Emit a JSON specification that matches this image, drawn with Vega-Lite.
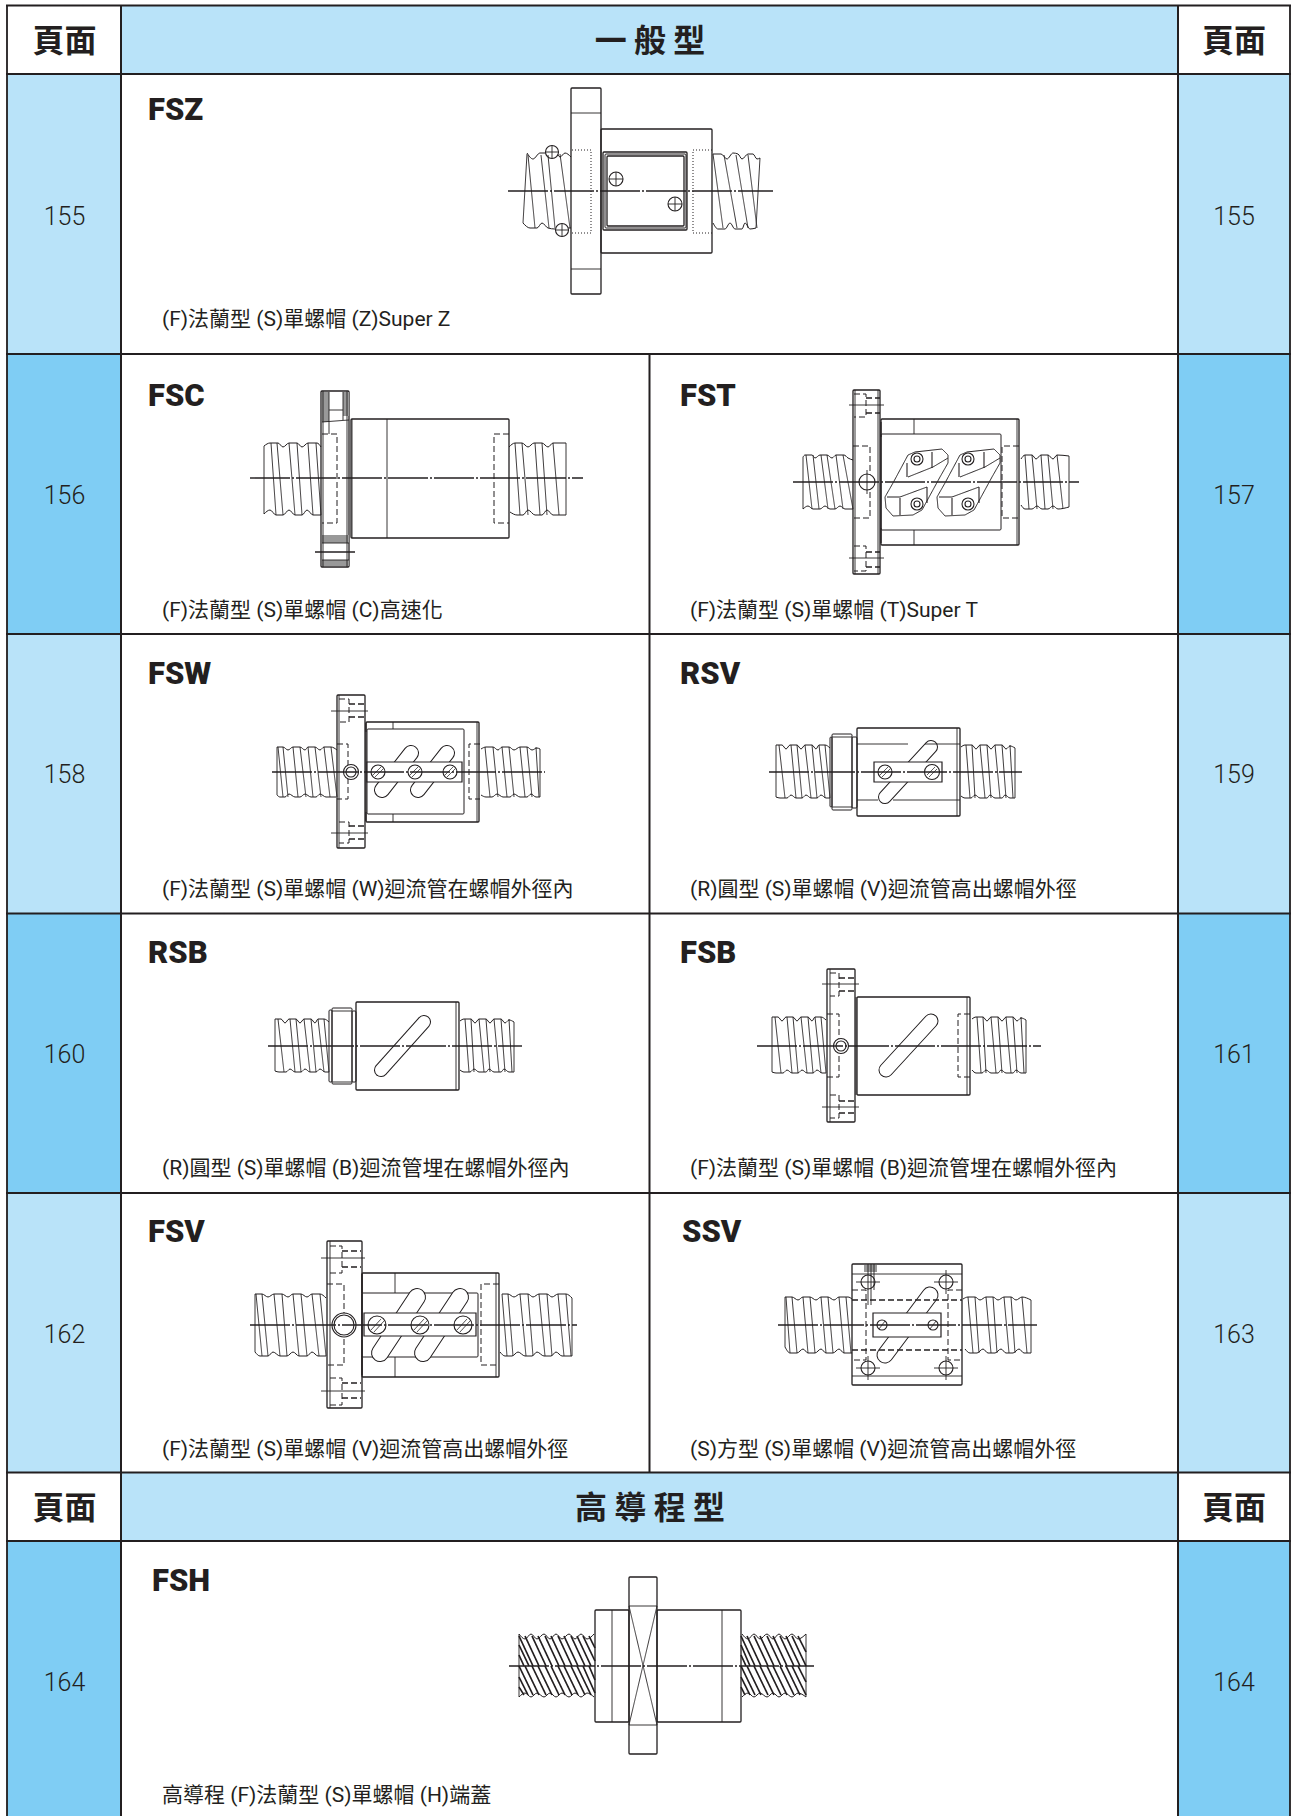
{"$schema":"https://vega.github.io/schema/vega-lite/v6.json","width":1292,"height":1816,"padding":0,"autosize":{"type":"none"},"background":"white","config":{"view":{"stroke":null}},"resolve":{"scale":{"strokeWidth":"independent","strokeDash":"independent","size":"independent","fill":"independent"}},"encoding":{"x":{"field":"x","type":"quantitative","axis":null,"scale":{"domain":[0,1292],"nice":false,"zero":false}},"y":{"field":"y","type":"quantitative","axis":null,"scale":{"domain":[0,1816],"reverse":true,"nice":false,"zero":false}}},"layer":[
{"data":{"values":[{"t":"white","x":7,"x2":121,"y":5,"y2":74},{"t":"light","x":121,"x2":1178,"y":5,"y2":74},{"t":"white","x":1178,"x2":1290,"y":5,"y2":74},{"t":"light","x":7,"x2":121,"y":74,"y2":354},{"t":"light","x":1178,"x2":1290,"y":74,"y2":354},{"t":"dark","x":7,"x2":121,"y":354,"y2":634},{"t":"dark","x":1178,"x2":1290,"y":354,"y2":634},{"t":"light","x":7,"x2":121,"y":634,"y2":913},{"t":"light","x":1178,"x2":1290,"y":634,"y2":913},{"t":"dark","x":7,"x2":121,"y":913,"y2":1193},{"t":"dark","x":1178,"x2":1290,"y":913,"y2":1193},{"t":"light","x":7,"x2":121,"y":1193,"y2":1472},{"t":"light","x":1178,"x2":1290,"y":1193,"y2":1472},{"t":"white","x":7,"x2":121,"y":1472,"y2":1541},{"t":"light","x":121,"x2":1178,"y":1472,"y2":1541},{"t":"white","x":1178,"x2":1290,"y":1472,"y2":1541},{"t":"dark","x":7,"x2":121,"y":1541,"y2":1816},{"t":"dark","x":1178,"x2":1290,"y":1541,"y2":1816}]},"mark":{"type":"rect"},"encoding":{"x2":{"field":"x2"},"y2":{"field":"y2"},"fill":{"field":"t","type":"nominal","legend":null,"scale":{"domain":["white","light","dark"],"range":["#ffffff","#b9e3f9","#7fcdf4"]}}}},
{"data":{"values":[
{"k":"t","x":571,"y":88,"x2":601,"y2":294},{"k":"t","x":601,"y":129,"x2":712,"y2":253},{"k":"t","x":603,"y":152,"x2":687,"y2":230},{"k":"s","x":605,"y":154,"x2":686,"y2":228},{"k":"t","x":607,"y":156,"x2":684,"y2":226},
{"k":"t","x":321,"y":391,"x2":349,"y2":567},{"k":"t","x":351,"y":419,"x2":509,"y2":538},
{"k":"t","x":853,"y":390,"x2":880,"y2":574},{"k":"t","x":881,"y":419,"x2":1019,"y2":545},{"k":"s","x":881,"y":434,"x2":1001,"y2":530},
{"k":"t","x":337,"y":695,"x2":365,"y2":848},{"k":"t","x":366,"y":722,"x2":479,"y2":822},{"k":"s","x":367,"y":729,"x2":464,"y2":814},
{"k":"s","x":830,"y":737,"x2":832,"y2":807},{"k":"s","x":832,"y":734,"x2":852,"y2":810},{"k":"s","x":852,"y":737,"x2":857,"y2":808},{"k":"t","x":857,"y":728,"x2":960,"y2":816},
{"k":"s","x":329,"y":1010,"x2":332,"y2":1082},{"k":"s","x":332,"y":1008,"x2":352,"y2":1084},{"k":"s","x":352,"y":1011,"x2":356,"y2":1082},{"k":"t","x":356,"y":1002,"x2":459,"y2":1090},
{"k":"t","x":827,"y":969,"x2":855,"y2":1122},{"k":"t","x":857,"y":997,"x2":970,"y2":1095},
{"k":"t","x":327,"y":1241,"x2":362,"y2":1408},{"k":"t","x":362,"y":1273,"x2":499,"y2":1377},{"k":"s","x":362,"y":1293,"x2":478,"y2":1357},
{"k":"t","x":852,"y":1264,"x2":962,"y2":1385},
{"k":"t","x":629,"y":1577,"x2":657,"y2":1754},{"k":"t","x":595,"y":1610,"x2":629,"y2":1722},{"k":"t","x":657,"y":1610,"x2":741,"y2":1722}
]},"mark":{"type":"rect","fillOpacity":0,"stroke":"#231f20","cornerRadius":1},"encoding":{"x2":{"field":"x2"},"y2":{"field":"y2"},"strokeWidth":{"field":"k","type":"nominal","legend":null,"scale":{"domain":["s","t"],"range":[1,1.3]}}}},
{"data":{"name":"slots","values":[{"d":16,"x":382,"y":790,"x2":411,"y2":753},{"d":16,"x":418,"y":790,"x2":447,"y2":753},{"d":14,"x":885,"y":797,"x2":931,"y2":747},{"d":14,"x":381,"y":1070,"x2":424,"y2":1022},{"d":15,"x":886,"y":1070,"x2":931,"y2":1021},{"d":18,"x":380,"y":1353,"x2":417,"y2":1297},{"d":18,"x":423,"y":1353,"x2":460,"y2":1297},{"d":17,"x":885,"y":1355,"x2":930,"y2":1295}]},"mark":{"type":"rule","stroke":"#231f20","strokeCap":"round"},"encoding":{"x2":{"field":"x2"},"y2":{"field":"y2"},"strokeWidth":{"field":"d","type":"quantitative","legend":null,"scale":{"domain":[0,20],"range":[0,20]}}}},
{"data":{"name":"slots"},"mark":{"type":"rule","stroke":"#ffffff","strokeCap":"round"},"encoding":{"x2":{"field":"x2"},"y2":{"field":"y2"},"strokeWidth":{"field":"d","type":"quantitative","legend":null,"scale":{"domain":[0,20],"range":[-2,18]}}}},
{"data":{"values":[{"x":367,"y":762,"x2":462,"y2":782},{"x":874,"y":762,"x2":942,"y2":782},{"x":364,"y":1313,"x2":476,"y2":1336},{"x":873,"y":1313,"x2":941,"y2":1337}]},"mark":{"type":"rect","fill":"#ffffff","stroke":"#231f20","strokeWidth":1.2},"encoding":{"x2":{"field":"x2"},"y2":{"field":"y2"}}},
{"data":{"values":[{"x":322,"y":392,"x2":329,"y2":422},{"x":343,"y":392,"x2":349,"y2":416},{"x":322,"y":535,"x2":349,"y2":543},{"x":322,"y":560,"x2":349,"y2":566},{"x":864,"y":1265,"x2":877,"y2":1272}]},"mark":{"type":"rect","fill":"#999999"},"encoding":{"x2":{"field":"x2"},"y2":{"field":"y2"}}},
{"data":{"values":[
{"g":"a1","x":527,"y":153},{"g":"a1","x":533,"y":159},{"g":"a1","x":540,"y":153},{"g":"a1","x":549,"y":153},{"g":"a1","x":556,"y":153},{"g":"a1","x":560,"y":157},{"g":"a1","x":565,"y":153},{"g":"a1","x":571,"y":157},
{"g":"a2","x":523,"y":223},{"g":"a2","x":530,"y":228},{"g":"a2","x":537,"y":228},{"g":"a2","x":542,"y":223},{"g":"a2","x":548,"y":228},{"g":"a2","x":555,"y":229},{"g":"a2","x":568,"y":228},{"g":"a2","x":571,"y":228},
{"g":"a3","x":713,"y":154},{"g":"a3","x":721,"y":154},{"g":"a3","x":727,"y":159},{"g":"a3","x":733,"y":153},{"g":"a3","x":738,"y":154},{"g":"a3","x":742,"y":159},{"g":"a3","x":748,"y":154},{"g":"a3","x":753,"y":154},{"g":"a3","x":757,"y":159},{"g":"a3","x":760,"y":158},
{"g":"a4","x":713,"y":223},{"g":"a4","x":718,"y":229},{"g":"a4","x":725,"y":229},{"g":"a4","x":730,"y":223},{"g":"a4","x":735,"y":229},{"g":"a4","x":742,"y":229},{"g":"a4","x":745,"y":223},{"g":"a4","x":750,"y":229},{"g":"a4","x":756,"y":228},
{"g":"b1","x":264,"y":446},{"g":"b1","x":270,"y":443},{"g":"b1","x":278,"y":443},{"g":"b1","x":283,"y":447},{"g":"b1","x":289,"y":443},{"g":"b1","x":297,"y":443},{"g":"b1","x":302,"y":447},{"g":"b1","x":308,"y":443},{"g":"b1","x":317,"y":443},{"g":"b1","x":321,"y":447},
{"g":"b2","x":264,"y":514},{"g":"b2","x":270,"y":510},{"g":"b2","x":276,"y":515},{"g":"b2","x":283,"y":515},{"g":"b2","x":289,"y":510},{"g":"b2","x":295,"y":515},{"g":"b2","x":302,"y":515},{"g":"b2","x":307,"y":510},{"g":"b2","x":313,"y":515},{"g":"b2","x":321,"y":515},
{"g":"b3","x":509,"y":447},{"g":"b3","x":515,"y":443},{"g":"b3","x":522,"y":443},{"g":"b3","x":528,"y":447},{"g":"b3","x":534,"y":443},{"g":"b3","x":542,"y":443},{"g":"b3","x":548,"y":447},{"g":"b3","x":553,"y":443},{"g":"b3","x":566,"y":443},
{"g":"b4","x":510,"y":512},{"g":"b4","x":517,"y":515},{"g":"b4","x":523,"y":515},{"g":"b4","x":528,"y":510},{"g":"b4","x":535,"y":515},{"g":"b4","x":542,"y":515},{"g":"b4","x":547,"y":510},{"g":"b4","x":553,"y":515},{"g":"b4","x":566,"y":515},
{"g":"c1","x":803,"y":457},{"g":"c1","x":805,"y":455},{"g":"c1","x":812,"y":455},{"g":"c1","x":815,"y":458},{"g":"c1","x":820,"y":455},{"g":"c1","x":827,"y":455},{"g":"c1","x":832,"y":458},{"g":"c1","x":836,"y":455},{"g":"c1","x":844,"y":455},{"g":"c1","x":848,"y":458},{"g":"c1","x":853,"y":460},
{"g":"c2","x":803,"y":509},{"g":"c2","x":808,"y":506},{"g":"c2","x":813,"y":509},{"g":"c2","x":820,"y":509},{"g":"c2","x":825,"y":506},{"g":"c2","x":830,"y":509},{"g":"c2","x":835,"y":509},{"g":"c2","x":840,"y":506},{"g":"c2","x":845,"y":509},{"g":"c2","x":853,"y":509},
{"g":"c3","x":1021,"y":459},{"g":"c3","x":1025,"y":455},{"g":"c3","x":1032,"y":455},{"g":"c3","x":1036,"y":459},{"g":"c3","x":1041,"y":455},{"g":"c3","x":1048,"y":455},{"g":"c3","x":1053,"y":459},{"g":"c3","x":1057,"y":455},{"g":"c3","x":1069,"y":456},
{"g":"c4","x":1021,"y":505},{"g":"c4","x":1025,"y":509},{"g":"c4","x":1032,"y":509},{"g":"c4","x":1037,"y":506},{"g":"c4","x":1042,"y":509},{"g":"c4","x":1048,"y":509},{"g":"c4","x":1053,"y":506},{"g":"c4","x":1058,"y":509},{"g":"c4","x":1069,"y":507},
{"g":"d1","x":277,"y":747},{"g":"d1","x":283,"y":747},{"g":"d1","x":288,"y":750},{"g":"d1","x":293,"y":747},{"g":"d1","x":300,"y":747},{"g":"d1","x":305,"y":750},{"g":"d1","x":308,"y":747},{"g":"d1","x":315,"y":747},{"g":"d1","x":320,"y":750},{"g":"d1","x":324,"y":747},{"g":"d1","x":331,"y":747},{"g":"d1","x":337,"y":750},
{"g":"d2","x":277,"y":795},{"g":"d2","x":280,"y":797},{"g":"d2","x":285,"y":797},{"g":"d2","x":289,"y":794},{"g":"d2","x":295,"y":797},{"g":"d2","x":300,"y":797},{"g":"d2","x":305,"y":794},{"g":"d2","x":311,"y":797},{"g":"d2","x":316,"y":797},{"g":"d2","x":320,"y":794},{"g":"d2","x":326,"y":797},{"g":"d2","x":336,"y":797},
{"g":"d3","x":481,"y":749},{"g":"d3","x":486,"y":747},{"g":"d3","x":493,"y":747},{"g":"d3","x":498,"y":750},{"g":"d3","x":502,"y":747},{"g":"d3","x":509,"y":747},{"g":"d3","x":514,"y":750},{"g":"d3","x":520,"y":747},{"g":"d3","x":527,"y":747},{"g":"d3","x":532,"y":750},{"g":"d3","x":537,"y":748},{"g":"d3","x":540,"y":749},
{"g":"d4","x":481,"y":795},{"g":"d4","x":486,"y":797},{"g":"d4","x":492,"y":797},{"g":"d4","x":497,"y":794},{"g":"d4","x":503,"y":797},{"g":"d4","x":510,"y":797},{"g":"d4","x":514,"y":794},{"g":"d4","x":520,"y":797},{"g":"d4","x":527,"y":797},{"g":"d4","x":531,"y":794},{"g":"d4","x":536,"y":797},{"g":"d4","x":540,"y":797},
{"g":"e1","x":776,"y":745},{"g":"e1","x":782,"y":745},{"g":"e1","x":786,"y":749},{"g":"e1","x":790,"y":745},{"g":"e1","x":797,"y":745},{"g":"e1","x":801,"y":749},{"g":"e1","x":805,"y":745},{"g":"e1","x":812,"y":745},{"g":"e1","x":816,"y":749},{"g":"e1","x":819,"y":745},{"g":"e1","x":825,"y":745},{"g":"e1","x":830,"y":748},
{"g":"e2","x":776,"y":797},{"g":"e2","x":780,"y":798},{"g":"e2","x":787,"y":798},{"g":"e2","x":791,"y":795},{"g":"e2","x":796,"y":798},{"g":"e2","x":802,"y":798},{"g":"e2","x":806,"y":795},{"g":"e2","x":811,"y":798},{"g":"e2","x":817,"y":798},{"g":"e2","x":821,"y":795},{"g":"e2","x":826,"y":798},{"g":"e2","x":830,"y":798},
{"g":"e3","x":961,"y":747},{"g":"e3","x":965,"y":745},{"g":"e3","x":972,"y":745},{"g":"e3","x":976,"y":749},{"g":"e3","x":980,"y":745},{"g":"e3","x":987,"y":745},{"g":"e3","x":991,"y":749},{"g":"e3","x":995,"y":745},{"g":"e3","x":1002,"y":745},{"g":"e3","x":1006,"y":749},{"g":"e3","x":1010,"y":746},{"g":"e3","x":1015,"y":748},
{"g":"e4","x":961,"y":796},{"g":"e4","x":965,"y":798},{"g":"e4","x":971,"y":798},{"g":"e4","x":975,"y":795},{"g":"e4","x":980,"y":798},{"g":"e4","x":987,"y":798},{"g":"e4","x":990,"y":795},{"g":"e4","x":995,"y":798},{"g":"e4","x":1002,"y":798},{"g":"e4","x":1005,"y":795},{"g":"e4","x":1010,"y":798},{"g":"e4","x":1015,"y":798},
{"g":"f1","x":275,"y":1019},{"g":"f1","x":281,"y":1019},{"g":"f1","x":285,"y":1023},{"g":"f1","x":289,"y":1019},{"g":"f1","x":296,"y":1019},{"g":"f1","x":300,"y":1023},{"g":"f1","x":304,"y":1019},{"g":"f1","x":311,"y":1019},{"g":"f1","x":315,"y":1023},{"g":"f1","x":318,"y":1019},{"g":"f1","x":324,"y":1019},{"g":"f1","x":329,"y":1022},
{"g":"f2","x":275,"y":1071},{"g":"f2","x":279,"y":1072},{"g":"f2","x":286,"y":1072},{"g":"f2","x":290,"y":1069},{"g":"f2","x":295,"y":1072},{"g":"f2","x":301,"y":1072},{"g":"f2","x":305,"y":1069},{"g":"f2","x":310,"y":1072},{"g":"f2","x":316,"y":1072},{"g":"f2","x":320,"y":1069},{"g":"f2","x":325,"y":1072},{"g":"f2","x":329,"y":1072},
{"g":"f3","x":460,"y":1021},{"g":"f3","x":464,"y":1019},{"g":"f3","x":471,"y":1019},{"g":"f3","x":475,"y":1023},{"g":"f3","x":479,"y":1019},{"g":"f3","x":486,"y":1019},{"g":"f3","x":490,"y":1023},{"g":"f3","x":494,"y":1019},{"g":"f3","x":501,"y":1019},{"g":"f3","x":505,"y":1023},{"g":"f3","x":509,"y":1020},{"g":"f3","x":514,"y":1022},
{"g":"f4","x":460,"y":1070},{"g":"f4","x":464,"y":1072},{"g":"f4","x":470,"y":1072},{"g":"f4","x":474,"y":1069},{"g":"f4","x":479,"y":1072},{"g":"f4","x":486,"y":1072},{"g":"f4","x":489,"y":1069},{"g":"f4","x":494,"y":1072},{"g":"f4","x":501,"y":1072},{"g":"f4","x":504,"y":1069},{"g":"f4","x":509,"y":1072},{"g":"f4","x":514,"y":1072},
{"g":"h1","x":772,"y":1017},{"g":"h1","x":778,"y":1017},{"g":"h1","x":782,"y":1021},{"g":"h1","x":786,"y":1017},{"g":"h1","x":793,"y":1017},{"g":"h1","x":797,"y":1021},{"g":"h1","x":801,"y":1017},{"g":"h1","x":808,"y":1017},{"g":"h1","x":812,"y":1021},{"g":"h1","x":815,"y":1017},{"g":"h1","x":821,"y":1017},{"g":"h1","x":826,"y":1020},
{"g":"h2","x":772,"y":1072},{"g":"h2","x":776,"y":1073},{"g":"h2","x":783,"y":1073},{"g":"h2","x":787,"y":1070},{"g":"h2","x":792,"y":1073},{"g":"h2","x":798,"y":1073},{"g":"h2","x":802,"y":1070},{"g":"h2","x":807,"y":1073},{"g":"h2","x":813,"y":1073},{"g":"h2","x":817,"y":1070},{"g":"h2","x":822,"y":1073},{"g":"h2","x":826,"y":1073},
{"g":"h3","x":972,"y":1019},{"g":"h3","x":976,"y":1017},{"g":"h3","x":983,"y":1017},{"g":"h3","x":987,"y":1021},{"g":"h3","x":991,"y":1017},{"g":"h3","x":998,"y":1017},{"g":"h3","x":1002,"y":1021},{"g":"h3","x":1006,"y":1017},{"g":"h3","x":1013,"y":1017},{"g":"h3","x":1017,"y":1021},{"g":"h3","x":1021,"y":1018},{"g":"h3","x":1026,"y":1020},
{"g":"h4","x":972,"y":1070},{"g":"h4","x":976,"y":1073},{"g":"h4","x":982,"y":1073},{"g":"h4","x":986,"y":1070},{"g":"h4","x":991,"y":1073},{"g":"h4","x":998,"y":1073},{"g":"h4","x":1001,"y":1070},{"g":"h4","x":1006,"y":1073},{"g":"h4","x":1013,"y":1073},{"g":"h4","x":1016,"y":1070},{"g":"h4","x":1021,"y":1073},{"g":"h4","x":1026,"y":1073},
{"g":"i1","x":255,"y":1294},{"g":"i1","x":262,"y":1294},{"g":"i1","x":268,"y":1297},{"g":"i1","x":274,"y":1294},{"g":"i1","x":282,"y":1294},{"g":"i1","x":288,"y":1297},{"g":"i1","x":293,"y":1294},{"g":"i1","x":301,"y":1294},{"g":"i1","x":307,"y":1297},{"g":"i1","x":312,"y":1294},{"g":"i1","x":320,"y":1294},{"g":"i1","x":326,"y":1298},
{"g":"i2","x":255,"y":1352},{"g":"i2","x":260,"y":1356},{"g":"i2","x":268,"y":1356},{"g":"i2","x":273,"y":1352},{"g":"i2","x":280,"y":1356},{"g":"i2","x":287,"y":1356},{"g":"i2","x":293,"y":1352},{"g":"i2","x":299,"y":1356},{"g":"i2","x":307,"y":1356},{"g":"i2","x":312,"y":1352},{"g":"i2","x":318,"y":1356},{"g":"i2","x":326,"y":1356},
{"g":"i3","x":502,"y":1294},{"g":"i3","x":508,"y":1294},{"g":"i3","x":514,"y":1297},{"g":"i3","x":520,"y":1294},{"g":"i3","x":528,"y":1294},{"g":"i3","x":533,"y":1297},{"g":"i3","x":539,"y":1294},{"g":"i3","x":547,"y":1294},{"g":"i3","x":552,"y":1297},{"g":"i3","x":558,"y":1294},{"g":"i3","x":566,"y":1294},{"g":"i3","x":572,"y":1298},
{"g":"i4","x":500,"y":1352},{"g":"i4","x":505,"y":1356},{"g":"i4","x":512,"y":1356},{"g":"i4","x":518,"y":1352},{"g":"i4","x":525,"y":1356},{"g":"i4","x":532,"y":1356},{"g":"i4","x":537,"y":1352},{"g":"i4","x":544,"y":1356},{"g":"i4","x":551,"y":1356},{"g":"i4","x":556,"y":1352},{"g":"i4","x":562,"y":1356},{"g":"i4","x":572,"y":1356},
{"g":"j1","x":785,"y":1297},{"g":"j1","x":792,"y":1297},{"g":"j1","x":798,"y":1300},{"g":"j1","x":803,"y":1297},{"g":"j1","x":810,"y":1297},{"g":"j1","x":816,"y":1300},{"g":"j1","x":821,"y":1297},{"g":"j1","x":828,"y":1297},{"g":"j1","x":834,"y":1300},{"g":"j1","x":839,"y":1297},{"g":"j1","x":848,"y":1297},{"g":"j1","x":852,"y":1299},
{"g":"j2","x":785,"y":1347},{"g":"j2","x":790,"y":1353},{"g":"j2","x":797,"y":1353},{"g":"j2","x":803,"y":1349},{"g":"j2","x":808,"y":1353},{"g":"j2","x":815,"y":1353},{"g":"j2","x":821,"y":1349},{"g":"j2","x":826,"y":1353},{"g":"j2","x":833,"y":1353},{"g":"j2","x":839,"y":1349},{"g":"j2","x":844,"y":1353},{"g":"j2","x":852,"y":1353},
{"g":"j3","x":963,"y":1299},{"g":"j3","x":968,"y":1297},{"g":"j3","x":975,"y":1297},{"g":"j3","x":980,"y":1300},{"g":"j3","x":986,"y":1297},{"g":"j3","x":993,"y":1297},{"g":"j3","x":998,"y":1300},{"g":"j3","x":1004,"y":1297},{"g":"j3","x":1011,"y":1297},{"g":"j3","x":1016,"y":1300},{"g":"j3","x":1022,"y":1297},{"g":"j3","x":1031,"y":1300},
{"g":"j4","x":965,"y":1349},{"g":"j4","x":970,"y":1353},{"g":"j4","x":977,"y":1353},{"g":"j4","x":983,"y":1349},{"g":"j4","x":988,"y":1353},{"g":"j4","x":995,"y":1353},{"g":"j4","x":1001,"y":1349},{"g":"j4","x":1006,"y":1353},{"g":"j4","x":1013,"y":1353},{"g":"j4","x":1019,"y":1349},{"g":"j4","x":1024,"y":1353},{"g":"j4","x":1031,"y":1353},
{"g":"k1","x":519,"y":1634},{"g":"k1","x":525,"y":1639},{"g":"k1","x":531,"y":1634},{"g":"k1","x":537,"y":1639},{"g":"k1","x":544,"y":1634},{"g":"k1","x":550,"y":1639},{"g":"k1","x":556,"y":1634},{"g":"k1","x":562,"y":1639},{"g":"k1","x":569,"y":1634},{"g":"k1","x":575,"y":1639},{"g":"k1","x":581,"y":1634},{"g":"k1","x":587,"y":1639},{"g":"k1","x":594,"y":1634},
{"g":"k2","x":519,"y":1697},{"g":"k2","x":525,"y":1693},{"g":"k2","x":531,"y":1697},{"g":"k2","x":537,"y":1693},{"g":"k2","x":544,"y":1697},{"g":"k2","x":550,"y":1693},{"g":"k2","x":556,"y":1697},{"g":"k2","x":562,"y":1693},{"g":"k2","x":569,"y":1697},{"g":"k2","x":575,"y":1693},{"g":"k2","x":581,"y":1697},{"g":"k2","x":587,"y":1693},{"g":"k2","x":594,"y":1697},
{"g":"k3","x":742,"y":1634},{"g":"k3","x":748,"y":1639},{"g":"k3","x":754,"y":1634},{"g":"k3","x":760,"y":1639},{"g":"k3","x":767,"y":1634},{"g":"k3","x":773,"y":1639},{"g":"k3","x":779,"y":1634},{"g":"k3","x":785,"y":1639},{"g":"k3","x":792,"y":1634},{"g":"k3","x":798,"y":1639},{"g":"k3","x":806,"y":1634},
{"g":"k4","x":742,"y":1697},{"g":"k4","x":748,"y":1693},{"g":"k4","x":754,"y":1697},{"g":"k4","x":760,"y":1693},{"g":"k4","x":767,"y":1697},{"g":"k4","x":773,"y":1693},{"g":"k4","x":779,"y":1697},{"g":"k4","x":785,"y":1693},{"g":"k4","x":792,"y":1697},{"g":"k4","x":798,"y":1693},{"g":"k4","x":806,"y":1697}
]},"mark":{"type":"line","interpolate":"monotone","stroke":"#231f20","strokeWidth":1},"encoding":{"detail":{"field":"g","type":"nominal"}}},
{"data":{"values":[
{"g":"o1","k":"o","x":572,"y":150},{"g":"o1","k":"o","x":591,"y":150},{"g":"o1","k":"o","x":591,"y":233},{"g":"o1","k":"o","x":572,"y":233},
{"g":"o2","k":"o","x":712,"y":150},{"g":"o2","k":"o","x":693,"y":150},{"g":"o2","k":"o","x":693,"y":233},{"g":"o2","k":"o","x":712,"y":233},
{"g":"p1","k":"d","x":322,"y":434},{"g":"p1","k":"d","x":337,"y":434},{"g":"p1","k":"d","x":337,"y":523},{"g":"p1","k":"d","x":322,"y":523},
{"g":"p2","k":"d","x":509,"y":434},{"g":"p2","k":"d","x":494,"y":434},{"g":"p2","k":"d","x":494,"y":523},{"g":"p2","k":"d","x":509,"y":523},
{"g":"p3","k":"d","x":854,"y":394},{"g":"p3","k":"d","x":866,"y":394},{"g":"p3","k":"d","x":866,"y":417},{"g":"p3","k":"d","x":854,"y":417},
{"g":"p4","k":"d","x":854,"y":546},{"g":"p4","k":"d","x":866,"y":546},{"g":"p4","k":"d","x":866,"y":571},{"g":"p4","k":"d","x":854,"y":571},
{"g":"p5","k":"d","x":853,"y":446},{"g":"p5","k":"d","x":870,"y":446},{"g":"p5","k":"d","x":870,"y":518},{"g":"p5","k":"d","x":853,"y":518},
{"g":"p6","k":"d","x":1019,"y":446},{"g":"p6","k":"d","x":1002,"y":446},{"g":"p6","k":"d","x":1002,"y":518},{"g":"p6","k":"d","x":1019,"y":518},
{"g":"q1","k":"s","x":915,"y":452},{"g":"q1","k":"s","x":942,"y":449},{"g":"q1","k":"s","x":948,"y":455},{"g":"q1","k":"s","x":948,"y":463},{"g":"q1","k":"s","x":940,"y":477},{"g":"q1","k":"s","x":922,"y":510},{"g":"q1","k":"s","x":913,"y":515},{"g":"q1","k":"s","x":893,"y":516},{"g":"q1","k":"s","x":886,"y":508},{"g":"q1","k":"s","x":885,"y":497},{"g":"q1","k":"s","x":893,"y":483},{"g":"q1","k":"s","x":908,"y":455},{"g":"q1","k":"s","x":915,"y":452},
{"g":"q2","k":"s","x":967,"y":452},{"g":"q2","k":"s","x":994,"y":449},{"g":"q2","k":"s","x":1000,"y":455},{"g":"q2","k":"s","x":1000,"y":463},{"g":"q2","k":"s","x":992,"y":477},{"g":"q2","k":"s","x":974,"y":510},{"g":"q2","k":"s","x":965,"y":515},{"g":"q2","k":"s","x":945,"y":516},{"g":"q2","k":"s","x":938,"y":508},{"g":"q2","k":"s","x":937,"y":497},{"g":"q2","k":"s","x":945,"y":483},{"g":"q2","k":"s","x":960,"y":455},{"g":"q2","k":"s","x":967,"y":452},
{"g":"q3","k":"s","x":908,"y":477},{"g":"q3","k":"s","x":933,"y":467},{"g":"q3","k":"s","x":948,"y":458},
{"g":"q4","k":"s","x":887,"y":497},{"g":"q4","k":"s","x":900,"y":497},{"g":"q4","k":"s","x":927,"y":487},
{"g":"q5","k":"s","x":960,"y":477},{"g":"q5","k":"s","x":985,"y":467},{"g":"q5","k":"s","x":1000,"y":458},
{"g":"q6","k":"s","x":939,"y":497},{"g":"q6","k":"s","x":952,"y":497},{"g":"q6","k":"s","x":979,"y":487},
{"g":"r1","k":"d","x":339,"y":699},{"g":"r1","k":"d","x":349,"y":699},{"g":"r1","k":"d","x":349,"y":722},{"g":"r1","k":"d","x":339,"y":722},
{"g":"r2","k":"d","x":339,"y":822},{"g":"r2","k":"d","x":349,"y":822},{"g":"r2","k":"d","x":349,"y":843},{"g":"r2","k":"d","x":339,"y":843},
{"g":"r3","k":"d","x":337,"y":744},{"g":"r3","k":"d","x":348,"y":744},{"g":"r3","k":"d","x":348,"y":799},{"g":"r3","k":"d","x":337,"y":799},
{"g":"r4","k":"d","x":480,"y":744},{"g":"r4","k":"d","x":469,"y":744},{"g":"r4","k":"d","x":469,"y":799},{"g":"r4","k":"d","x":480,"y":799},
{"g":"u1","k":"d","x":830,"y":973},{"g":"u1","k":"d","x":839,"y":973},{"g":"u1","k":"d","x":839,"y":996},{"g":"u1","k":"d","x":830,"y":996},
{"g":"u2","k":"d","x":830,"y":1095},{"g":"u2","k":"d","x":839,"y":1095},{"g":"u2","k":"d","x":839,"y":1118},{"g":"u2","k":"d","x":830,"y":1118},
{"g":"u3","k":"d","x":827,"y":1014},{"g":"u3","k":"d","x":839,"y":1014},{"g":"u3","k":"d","x":839,"y":1077},{"g":"u3","k":"d","x":827,"y":1077},
{"g":"u4","k":"d","x":970,"y":1014},{"g":"u4","k":"d","x":958,"y":1014},{"g":"u4","k":"d","x":958,"y":1077},{"g":"u4","k":"d","x":970,"y":1077},
{"g":"v1","k":"d","x":330,"y":1246},{"g":"v1","k":"d","x":342,"y":1246},{"g":"v1","k":"d","x":342,"y":1273},{"g":"v1","k":"d","x":330,"y":1273},
{"g":"v2","k":"d","x":330,"y":1378},{"g":"v2","k":"d","x":342,"y":1378},{"g":"v2","k":"d","x":342,"y":1405},{"g":"v2","k":"d","x":330,"y":1405},
{"g":"v3","k":"d","x":327,"y":1284},{"g":"v3","k":"d","x":344,"y":1284},{"g":"v3","k":"d","x":344,"y":1365},{"g":"v3","k":"d","x":327,"y":1365},
{"g":"v4","k":"d","x":499,"y":1284},{"g":"v4","k":"d","x":481,"y":1284},{"g":"v4","k":"d","x":481,"y":1365},{"g":"v4","k":"d","x":499,"y":1365},
{"g":"w1","k":"d","x":852,"y":1290},{"g":"w1","k":"d","x":866,"y":1290},{"g":"w1","k":"d","x":866,"y":1360},{"g":"w1","k":"d","x":852,"y":1360},
{"g":"w2","k":"d","x":962,"y":1290},{"g":"w2","k":"d","x":948,"y":1290},{"g":"w2","k":"d","x":948,"y":1360},{"g":"w2","k":"d","x":962,"y":1360}
]},"transform":[{"window":[{"op":"row_number","as":"n"}]}],"mark":{"type":"line","stroke":"#231f20","strokeWidth":1},"encoding":{"detail":{"field":"g","type":"nominal"},"order":{"field":"n","type":"quantitative"},"strokeDash":{"field":"k","type":"nominal","legend":null,"scale":{"domain":["s","d","o"],"range":[[1,0],[6,3],[1,2]]}}}},
{"data":{"values":[
{"d":13,"x":552,"y":152},{"d":13,"x":562,"y":230},{"d":14,"x":616,"y":179},{"d":14,"x":675,"y":204},
{"d":16,"x":867,"y":482},{"d":12,"x":917,"y":459},{"d":6,"x":917,"y":459},{"d":12,"x":917,"y":504},{"d":6,"x":917,"y":504},{"d":12,"x":968,"y":459},{"d":6,"x":968,"y":459},{"d":12,"x":968,"y":504},{"d":6,"x":968,"y":504},
{"d":15,"x":351,"y":772},{"d":10,"x":351,"y":772},{"d":14,"x":378,"y":772},{"d":14,"x":415,"y":772},{"d":14,"x":450,"y":772},
{"d":14,"x":885,"y":772},{"d":15,"x":932,"y":772},
{"d":15,"x":841,"y":1046},{"d":10,"x":841,"y":1046},
{"d":24,"x":344,"y":1325},{"d":20,"x":344,"y":1325},{"d":18,"x":377,"y":1325},{"d":18,"x":420,"y":1325},{"d":18,"x":463,"y":1325},
{"d":14,"x":868,"y":1282},{"d":14,"x":946,"y":1282},{"d":14,"x":868,"y":1368},{"d":14,"x":946,"y":1368},{"d":10,"x":882,"y":1325},{"d":10,"x":933,"y":1325}
]},"mark":{"type":"point","shape":"circle","filled":true,"fill":"#ffffff","stroke":"#231f20","strokeWidth":1.1,"opacity":1},"encoding":{"size":{"field":"d","type":"quantitative","legend":null,"scale":{"type":"pow","exponent":2,"domain":[0,40],"range":[0,1600]}}}},
{"data":{"values":[
{"k":"c","x":508,"y":191,"x2":773,"y2":191},{"k":"s","x":571,"y":113,"x2":601,"y2":113},{"k":"s","x":571,"y":269,"x2":601,"y2":269},{"k":"s","x":546,"y":152,"x2":558,"y2":152},{"k":"s","x":552,"y":146,"x2":552,"y2":158},{"k":"s","x":556,"y":230,"x2":568,"y2":230},{"k":"s","x":562,"y":224,"x2":562,"y2":236},{"k":"s","x":609,"y":179,"x2":623,"y2":179},{"k":"s","x":616,"y":172,"x2":616,"y2":186},{"k":"s","x":668,"y":204,"x2":682,"y2":204},{"k":"s","x":675,"y":197,"x2":675,"y2":211},
{"k":"s","x":527,"y":154,"x2":523,"y2":223},{"k":"s","x":528,"y":155,"x2":535,"y2":228},{"k":"s","x":541,"y":155,"x2":549,"y2":228},{"k":"s","x":548,"y":155,"x2":555,"y2":228},{"k":"s","x":560,"y":154,"x2":570,"y2":228},{"k":"s","x":713,"y":154,"x2":723,"y2":228},{"k":"s","x":724,"y":155,"x2":737,"y2":228},{"k":"s","x":736,"y":155,"x2":748,"y2":228},{"k":"s","x":748,"y":155,"x2":757,"y2":228},{"k":"s","x":760,"y":158,"x2":756,"y2":228},
{"k":"c","x":250,"y":478,"x2":583,"y2":478},{"k":"s","x":323,"y":391,"x2":323,"y2":567},{"k":"s","x":347,"y":391,"x2":347,"y2":567},{"k":"s","x":329,"y":392,"x2":329,"y2":434},{"k":"s","x":343,"y":392,"x2":343,"y2":420},{"k":"s","x":329,"y":410,"x2":343,"y2":410},{"k":"s","x":322,"y":422,"x2":349,"y2":420},{"k":"s","x":322,"y":543,"x2":349,"y2":543},{"k":"s","x":322,"y":560,"x2":349,"y2":560},{"k":"c","x":315,"y":552,"x2":355,"y2":552},{"k":"s","x":352,"y":419,"x2":352,"y2":538},{"k":"s","x":387,"y":419,"x2":387,"y2":538},
{"k":"s","x":264,"y":446,"x2":264,"y2":514},{"k":"s","x":271,"y":443,"x2":276,"y2":515},{"k":"s","x":277,"y":443,"x2":283,"y2":515},{"k":"s","x":289,"y":443,"x2":295,"y2":515},{"k":"s","x":297,"y":443,"x2":302,"y2":515},{"k":"s","x":308,"y":443,"x2":313,"y2":515},{"k":"s","x":316,"y":443,"x2":321,"y2":515},{"k":"s","x":515,"y":443,"x2":520,"y2":515},{"k":"s","x":522,"y":443,"x2":528,"y2":515},{"k":"s","x":535,"y":443,"x2":540,"y2":515},{"k":"s","x":542,"y":443,"x2":547,"y2":515},{"k":"s","x":553,"y":443,"x2":559,"y2":515},{"k":"s","x":566,"y":443,"x2":566,"y2":515},
{"k":"c","x":793,"y":482,"x2":1079,"y2":482},{"k":"s","x":849,"y":405,"x2":884,"y2":405},{"k":"s","x":849,"y":558,"x2":884,"y2":558},{"k":"d","x":866,"y":398,"x2":880,"y2":398},{"k":"d","x":866,"y":413,"x2":880,"y2":413},{"k":"d","x":866,"y":552,"x2":880,"y2":552},{"k":"d","x":866,"y":567,"x2":880,"y2":567},{"k":"s","x":855,"y":390,"x2":855,"y2":574},{"k":"s","x":878,"y":390,"x2":878,"y2":574},{"k":"s","x":867,"y":470,"x2":867,"y2":494},{"k":"t","x":881,"y":422,"x2":881,"y2":437},{"k":"t","x":881,"y":528,"x2":881,"y2":543},{"k":"s","x":914,"y":419,"x2":914,"y2":434},{"k":"s","x":914,"y":530,"x2":914,"y2":545},{"k":"s","x":1017,"y":419,"x2":1017,"y2":545},
{"k":"t","x":932,"y":452,"x2":932,"y2":468},{"k":"t","x":907,"y":463,"x2":907,"y2":477},{"k":"t","x":900,"y":498,"x2":900,"y2":515},{"k":"t","x":927,"y":487,"x2":927,"y2":503},{"k":"t","x":984,"y":452,"x2":984,"y2":468},{"k":"t","x":959,"y":463,"x2":959,"y2":477},{"k":"t","x":952,"y":498,"x2":952,"y2":515},{"k":"t","x":979,"y":487,"x2":979,"y2":503},
{"k":"s","x":803,"y":457,"x2":803,"y2":509},{"k":"s","x":806,"y":455,"x2":812,"y2":509},{"k":"s","x":813,"y":455,"x2":819,"y2":509},{"k":"s","x":821,"y":455,"x2":828,"y2":509},{"k":"s","x":827,"y":455,"x2":835,"y2":509},{"k":"s","x":836,"y":455,"x2":843,"y2":509},{"k":"s","x":843,"y":455,"x2":853,"y2":509},{"k":"s","x":1025,"y":455,"x2":1029,"y2":509},{"k":"s","x":1032,"y":455,"x2":1037,"y2":509},{"k":"s","x":1041,"y":455,"x2":1045,"y2":509},{"k":"s","x":1048,"y":455,"x2":1053,"y2":509},{"k":"s","x":1057,"y":455,"x2":1063,"y2":509},{"k":"s","x":1069,"y":456,"x2":1069,"y2":507},
{"k":"c","x":272,"y":772,"x2":545,"y2":772},{"k":"s","x":331,"y":711,"x2":368,"y2":711},{"k":"s","x":331,"y":833,"x2":368,"y2":833},{"k":"s","x":339,"y":695,"x2":339,"y2":848},{"k":"d","x":349,"y":704,"x2":364,"y2":704},{"k":"d","x":349,"y":717,"x2":364,"y2":717},{"k":"d","x":349,"y":826,"x2":364,"y2":826},{"k":"d","x":349,"y":839,"x2":364,"y2":839},{"k":"t","x":366,"y":723,"x2":366,"y2":732},{"k":"t","x":366,"y":812,"x2":366,"y2":821},{"k":"s","x":393,"y":722,"x2":393,"y2":729},{"k":"s","x":393,"y":814,"x2":393,"y2":822},{"k":"s","x":477,"y":722,"x2":477,"y2":822},
{"k":"s","x":373,"y":775,"x2":381,"y2":767},{"k":"s","x":375,"y":777,"x2":383,"y2":769},{"k":"s","x":410,"y":775,"x2":418,"y2":767},{"k":"s","x":412,"y":777,"x2":420,"y2":769},{"k":"s","x":445,"y":775,"x2":453,"y2":767},{"k":"s","x":447,"y":777,"x2":455,"y2":769},
{"k":"s","x":277,"y":747,"x2":277,"y2":795},{"k":"s","x":278,"y":747,"x2":283,"y2":797},{"k":"s","x":283,"y":747,"x2":288,"y2":797},{"k":"s","x":293,"y":747,"x2":298,"y2":797},{"k":"s","x":300,"y":747,"x2":306,"y2":797},{"k":"s","x":308,"y":747,"x2":313,"y2":797},{"k":"s","x":315,"y":747,"x2":321,"y2":797},{"k":"s","x":324,"y":747,"x2":330,"y2":797},{"k":"s","x":331,"y":747,"x2":337,"y2":797},{"k":"s","x":485,"y":747,"x2":490,"y2":797},{"k":"s","x":493,"y":747,"x2":498,"y2":797},{"k":"s","x":502,"y":747,"x2":507,"y2":797},{"k":"s","x":509,"y":747,"x2":514,"y2":797},{"k":"s","x":520,"y":747,"x2":525,"y2":797},{"k":"s","x":527,"y":747,"x2":532,"y2":797},{"k":"s","x":536,"y":747,"x2":539,"y2":797},{"k":"s","x":540,"y":749,"x2":540,"y2":797},
{"k":"c","x":769,"y":772,"x2":1022,"y2":772},{"k":"s","x":857,"y":744,"x2":908,"y2":744},{"k":"s","x":925,"y":744,"x2":960,"y2":744},{"k":"s","x":857,"y":800,"x2":878,"y2":800},{"k":"s","x":893,"y":800,"x2":960,"y2":800},{"k":"s","x":957,"y":728,"x2":957,"y2":816},{"k":"s","x":832,"y":737,"x2":852,"y2":737},{"k":"s","x":832,"y":807,"x2":852,"y2":807},
{"k":"s","x":880,"y":775,"x2":888,"y2":767},{"k":"s","x":882,"y":777,"x2":890,"y2":769},{"k":"s","x":927,"y":775,"x2":935,"y2":767},{"k":"s","x":929,"y":777,"x2":937,"y2":769},
{"k":"s","x":776,"y":745,"x2":776,"y2":797},{"k":"s","x":779,"y":745,"x2":785,"y2":798},{"k":"s","x":791,"y":745,"x2":796,"y2":798},{"k":"s","x":797,"y":745,"x2":802,"y2":798},{"k":"s","x":805,"y":745,"x2":811,"y2":798},{"k":"s","x":812,"y":745,"x2":817,"y2":798},{"k":"s","x":819,"y":745,"x2":825,"y2":798},{"k":"s","x":825,"y":745,"x2":830,"y2":798},{"k":"s","x":966,"y":745,"x2":970,"y2":798},{"k":"s","x":972,"y":745,"x2":975,"y2":798},{"k":"s","x":980,"y":745,"x2":985,"y2":798},{"k":"s","x":987,"y":745,"x2":991,"y2":798},{"k":"s","x":995,"y":745,"x2":1000,"y2":798},{"k":"s","x":1002,"y":745,"x2":1006,"y2":798},{"k":"s","x":1010,"y":745,"x2":1013,"y2":798},{"k":"s","x":1015,"y":748,"x2":1015,"y2":798},
{"k":"c","x":268,"y":1046,"x2":522,"y2":1046},{"k":"s","x":332,"y":1011,"x2":352,"y2":1011},{"k":"s","x":332,"y":1082,"x2":352,"y2":1082},{"k":"s","x":456,"y":1002,"x2":456,"y2":1090},
{"k":"s","x":275,"y":1019,"x2":275,"y2":1071},{"k":"s","x":278,"y":1019,"x2":284,"y2":1072},{"k":"s","x":290,"y":1019,"x2":295,"y2":1072},{"k":"s","x":296,"y":1019,"x2":301,"y2":1072},{"k":"s","x":304,"y":1019,"x2":310,"y2":1072},{"k":"s","x":311,"y":1019,"x2":316,"y2":1072},{"k":"s","x":318,"y":1019,"x2":324,"y2":1072},{"k":"s","x":324,"y":1019,"x2":329,"y2":1072},{"k":"s","x":465,"y":1019,"x2":469,"y2":1072},{"k":"s","x":471,"y":1019,"x2":474,"y2":1072},{"k":"s","x":479,"y":1019,"x2":484,"y2":1072},{"k":"s","x":486,"y":1019,"x2":490,"y2":1072},{"k":"s","x":494,"y":1019,"x2":499,"y2":1072},{"k":"s","x":501,"y":1019,"x2":505,"y2":1072},{"k":"s","x":509,"y":1019,"x2":512,"y2":1072},{"k":"s","x":514,"y":1022,"x2":514,"y2":1072},
{"k":"c","x":757,"y":1046,"x2":1041,"y2":1046},{"k":"s","x":822,"y":984,"x2":859,"y2":984},{"k":"s","x":822,"y":1107,"x2":859,"y2":1107},{"k":"s","x":830,"y":969,"x2":830,"y2":1122},{"k":"d","x":839,"y":978,"x2":855,"y2":978},{"k":"d","x":839,"y":991,"x2":855,"y2":991},{"k":"d","x":839,"y":1101,"x2":855,"y2":1101},{"k":"d","x":839,"y":1113,"x2":855,"y2":1113},{"k":"s","x":856,"y":997,"x2":856,"y2":1095},{"k":"s","x":967,"y":997,"x2":967,"y2":1095},
{"k":"s","x":772,"y":1017,"x2":772,"y2":1072},{"k":"s","x":775,"y":1017,"x2":781,"y2":1073},{"k":"s","x":787,"y":1017,"x2":792,"y2":1073},{"k":"s","x":793,"y":1017,"x2":798,"y2":1073},{"k":"s","x":801,"y":1017,"x2":807,"y2":1073},{"k":"s","x":808,"y":1017,"x2":813,"y2":1073},{"k":"s","x":815,"y":1017,"x2":821,"y2":1073},{"k":"s","x":821,"y":1017,"x2":826,"y2":1073},{"k":"s","x":977,"y":1017,"x2":981,"y2":1073},{"k":"s","x":983,"y":1017,"x2":986,"y2":1073},{"k":"s","x":991,"y":1017,"x2":996,"y2":1073},{"k":"s","x":998,"y":1017,"x2":1002,"y2":1073},{"k":"s","x":1006,"y":1017,"x2":1011,"y2":1073},{"k":"s","x":1013,"y":1017,"x2":1017,"y2":1073},{"k":"s","x":1021,"y":1017,"x2":1024,"y2":1073},{"k":"s","x":1026,"y":1020,"x2":1026,"y2":1073},
{"k":"c","x":250,"y":1325,"x2":577,"y2":1325},{"k":"s","x":321,"y":1258,"x2":365,"y2":1258},{"k":"s","x":321,"y":1391,"x2":365,"y2":1391},{"k":"s","x":330,"y":1241,"x2":330,"y2":1408},{"k":"d","x":342,"y":1251,"x2":361,"y2":1251},{"k":"d","x":342,"y":1267,"x2":361,"y2":1267},{"k":"d","x":342,"y":1383,"x2":361,"y2":1383},{"k":"d","x":342,"y":1398,"x2":361,"y2":1398},{"k":"t","x":362,"y":1274,"x2":362,"y2":1293},{"k":"t","x":362,"y":1356,"x2":362,"y2":1375},{"k":"s","x":395,"y":1273,"x2":395,"y2":1293},{"k":"s","x":395,"y":1357,"x2":395,"y2":1377},{"k":"s","x":496,"y":1273,"x2":496,"y2":1377},
{"k":"s","x":371,"y":1330,"x2":381,"y2":1319},{"k":"s","x":374,"y":1332,"x2":384,"y2":1321},{"k":"s","x":414,"y":1330,"x2":424,"y2":1319},{"k":"s","x":417,"y":1332,"x2":427,"y2":1321},{"k":"s","x":457,"y":1330,"x2":467,"y2":1319},{"k":"s","x":460,"y":1332,"x2":470,"y2":1321},
{"k":"s","x":255,"y":1294,"x2":255,"y2":1352},{"k":"s","x":256,"y":1294,"x2":262,"y2":1356},{"k":"s","x":262,"y":1294,"x2":268,"y2":1356},{"k":"s","x":274,"y":1294,"x2":280,"y2":1356},{"k":"s","x":282,"y":1294,"x2":287,"y2":1356},{"k":"s","x":293,"y":1294,"x2":299,"y2":1356},{"k":"s","x":301,"y":1294,"x2":307,"y2":1356},{"k":"s","x":312,"y":1294,"x2":319,"y2":1356},{"k":"s","x":320,"y":1294,"x2":326,"y2":1356},{"k":"s","x":502,"y":1294,"x2":507,"y2":1356},{"k":"s","x":508,"y":1294,"x2":513,"y2":1356},{"k":"s","x":520,"y":1294,"x2":526,"y2":1356},{"k":"s","x":528,"y":1294,"x2":533,"y2":1356},{"k":"s","x":539,"y":1294,"x2":545,"y2":1356},{"k":"s","x":547,"y":1294,"x2":552,"y2":1356},{"k":"s","x":558,"y":1294,"x2":564,"y2":1356},{"k":"s","x":566,"y":1294,"x2":571,"y2":1356},{"k":"s","x":572,"y":1298,"x2":572,"y2":1356},
{"k":"c","x":778,"y":1325,"x2":1037,"y2":1325},{"k":"s","x":852,"y":1274,"x2":962,"y2":1274},{"k":"s","x":852,"y":1376,"x2":962,"y2":1376},{"k":"d","x":852,"y":1300,"x2":962,"y2":1300},{"k":"d","x":852,"y":1350,"x2":962,"y2":1350},{"k":"s","x":868,"y":1264,"x2":868,"y2":1305},{"k":"s","x":871,"y":1264,"x2":871,"y2":1305},{"k":"s","x":874,"y":1264,"x2":874,"y2":1290},{"k":"s","x":856,"y":1282,"x2":880,"y2":1282},{"k":"s","x":934,"y":1282,"x2":958,"y2":1282},{"k":"s","x":946,"y":1270,"x2":946,"y2":1294},{"k":"s","x":856,"y":1368,"x2":880,"y2":1368},{"k":"s","x":868,"y":1356,"x2":868,"y2":1380},{"k":"s","x":934,"y":1368,"x2":958,"y2":1368},{"k":"s","x":946,"y":1356,"x2":946,"y2":1380},{"k":"s","x":879,"y":1329,"x2":885,"y2":1321},{"k":"s","x":930,"y":1329,"x2":936,"y2":1321},
{"k":"s","x":785,"y":1297,"x2":785,"y2":1347},{"k":"s","x":786,"y":1297,"x2":790,"y2":1353},{"k":"s","x":792,"y":1297,"x2":797,"y2":1353},{"k":"s","x":803,"y":1297,"x2":808,"y2":1353},{"k":"s","x":810,"y":1297,"x2":815,"y2":1353},{"k":"s","x":821,"y":1297,"x2":826,"y2":1353},{"k":"s","x":828,"y":1297,"x2":833,"y2":1353},{"k":"s","x":839,"y":1297,"x2":844,"y2":1353},{"k":"s","x":846,"y":1297,"x2":851,"y2":1353},{"k":"s","x":968,"y":1297,"x2":973,"y2":1353},{"k":"s","x":975,"y":1297,"x2":979,"y2":1353},{"k":"s","x":986,"y":1297,"x2":991,"y2":1353},{"k":"s","x":993,"y":1297,"x2":997,"y2":1353},{"k":"s","x":1004,"y":1297,"x2":1009,"y2":1353},{"k":"s","x":1011,"y":1297,"x2":1015,"y2":1353},{"k":"s","x":1022,"y":1297,"x2":1027,"y2":1353},{"k":"s","x":1031,"y":1300,"x2":1031,"y2":1353},
{"k":"c","x":509,"y":1666,"x2":814,"y2":1666},{"k":"s","x":629,"y":1606,"x2":657,"y2":1606},{"k":"s","x":629,"y":1725,"x2":657,"y2":1725},{"k":"s","x":629,"y":1606,"x2":657,"y2":1725},{"k":"s","x":657,"y":1606,"x2":629,"y2":1725},{"k":"s","x":612,"y":1610,"x2":612,"y2":1722},{"k":"s","x":722,"y":1610,"x2":722,"y2":1722},{"k":"s","x":519,"y":1634,"x2":519,"y2":1697},{"k":"s","x":806,"y":1634,"x2":806,"y2":1697},
{"k":"h","x":519,"y":1636,"x2":533,"y2":1666},{"k":"h","x":525,"y":1636,"x2":539,"y2":1666},{"k":"h","x":532,"y":1636,"x2":546,"y2":1666},{"k":"h","x":538,"y":1636,"x2":552,"y2":1666},{"k":"h","x":545,"y":1636,"x2":559,"y2":1666},{"k":"h","x":551,"y":1636,"x2":565,"y2":1666},{"k":"h","x":558,"y":1636,"x2":572,"y2":1666},{"k":"h","x":564,"y":1636,"x2":578,"y2":1666},{"k":"h","x":571,"y":1636,"x2":585,"y2":1666},{"k":"h","x":577,"y":1636,"x2":591,"y2":1666},{"k":"h","x":583,"y":1636,"x2":595,"y2":1661},{"k":"h","x":589,"y":1636,"x2":595,"y2":1648},{"k":"h","x":519,"y":1645,"x2":529,"y2":1666},{"k":"h","x":519,"y":1655,"x2":524,"y2":1666},
{"k":"h","x":519,"y":1666,"x2":533,"y2":1695},{"k":"h","x":525,"y":1666,"x2":539,"y2":1695},{"k":"h","x":532,"y":1666,"x2":546,"y2":1695},{"k":"h","x":538,"y":1666,"x2":552,"y2":1695},{"k":"h","x":545,"y":1666,"x2":559,"y2":1695},{"k":"h","x":551,"y":1666,"x2":565,"y2":1695},{"k":"h","x":558,"y":1666,"x2":572,"y2":1695},{"k":"h","x":564,"y":1666,"x2":578,"y2":1695},{"k":"h","x":571,"y":1666,"x2":585,"y2":1695},{"k":"h","x":577,"y":1666,"x2":591,"y2":1695},{"k":"h","x":583,"y":1666,"x2":595,"y2":1693},{"k":"h","x":589,"y":1666,"x2":595,"y2":1680},{"k":"h","x":519,"y":1677,"x2":528,"y2":1695},{"k":"h","x":519,"y":1687,"x2":524,"y2":1695},
{"k":"h","x":741,"y":1636,"x2":755,"y2":1666},{"k":"h","x":747,"y":1636,"x2":761,"y2":1666},{"k":"h","x":754,"y":1636,"x2":768,"y2":1666},{"k":"h","x":760,"y":1636,"x2":774,"y2":1666},{"k":"h","x":767,"y":1636,"x2":781,"y2":1666},{"k":"h","x":773,"y":1636,"x2":787,"y2":1666},{"k":"h","x":780,"y":1636,"x2":794,"y2":1666},{"k":"h","x":786,"y":1636,"x2":800,"y2":1666},{"k":"h","x":792,"y":1636,"x2":806,"y2":1666},{"k":"h","x":798,"y":1636,"x2":806,"y2":1652},{"k":"h","x":741,"y":1645,"x2":750,"y2":1666},{"k":"h","x":741,"y":1655,"x2":746,"y2":1666},
{"k":"h","x":741,"y":1666,"x2":755,"y2":1695},{"k":"h","x":747,"y":1666,"x2":761,"y2":1695},{"k":"h","x":754,"y":1666,"x2":768,"y2":1695},{"k":"h","x":760,"y":1666,"x2":774,"y2":1695},{"k":"h","x":767,"y":1666,"x2":781,"y2":1695},{"k":"h","x":773,"y":1666,"x2":787,"y2":1695},{"k":"h","x":780,"y":1666,"x2":794,"y2":1695},{"k":"h","x":786,"y":1666,"x2":800,"y2":1695},{"k":"h","x":792,"y":1666,"x2":806,"y2":1695},{"k":"h","x":798,"y":1666,"x2":806,"y2":1682},{"k":"h","x":741,"y":1677,"x2":750,"y2":1695},{"k":"h","x":741,"y":1687,"x2":745,"y2":1695},
{"k":"b","x":6,"y":5.5,"x2":1291,"y2":5.5},{"k":"b","x":6,"y":74,"x2":1291,"y2":74},{"k":"b","x":6,"y":354,"x2":1291,"y2":354},{"k":"b","x":6,"y":634,"x2":1291,"y2":634},{"k":"b","x":6,"y":913.5,"x2":1291,"y2":913.5},{"k":"b","x":6,"y":1193,"x2":1291,"y2":1193},{"k":"b","x":6,"y":1472.5,"x2":1291,"y2":1472.5},{"k":"b","x":6,"y":1541,"x2":1291,"y2":1541},{"k":"b","x":7,"y":5,"x2":7,"y2":1816},{"k":"m","x":121,"y":5,"x2":121,"y2":1816},{"k":"m","x":1178,"y":5,"x2":1178,"y2":1816},{"k":"b","x":1290,"y":5,"x2":1290,"y2":1816},{"k":"m","x":649.5,"y":354,"x2":649.5,"y2":1472}
]},"mark":{"type":"rule","stroke":"#231f20"},"encoding":{"x2":{"field":"x2"},"y2":{"field":"y2"},"strokeWidth":{"field":"k","type":"nominal","legend":null,"scale":{"domain":["s","t","d","c","h","b","m"],"range":[0.9,2,1,1,0.8,3,2]}},"strokeDash":{"field":"k","type":"nominal","legend":null,"scale":{"domain":["s","t","d","c","h","b","m"],"range":[[1,0],[1,0],[6,3],[40,2,2,2],[1,0],[1,0],[1,0]]}}}},
{"data":{"values":[{"s":"頁面","x":64.5,"y":40},{"s":"頁面","x":1234,"y":40},{"s":"頁面","x":64.5,"y":1507},{"s":"頁面","x":1234,"y":1507},{"s":"一 般 型","x":650,"y":40},{"s":"高 導 程 型","x":650,"y":1507}]},"mark":{"type":"text","font":"Noto Sans CJK TC","fontWeight":700,"fontSize":32,"align":"center","baseline":"middle","dy":2,"fill":"#231f20"},"encoding":{"text":{"field":"s","type":"nominal"}}},
{"data":{"values":[{"s":"155","x":64.5,"y":215},{"s":"155","x":1234,"y":215},{"s":"156","x":64.5,"y":494},{"s":"157","x":1234,"y":494},{"s":"158","x":64.5,"y":773},{"s":"159","x":1234,"y":773},{"s":"160","x":64.5,"y":1053},{"s":"161","x":1234,"y":1053},{"s":"162","x":64.5,"y":1333},{"s":"163","x":1234,"y":1333},{"s":"164","x":64.5,"y":1681},{"s":"164","x":1234,"y":1681}]},"mark":{"type":"text","font":"Roboto","fontSize":25,"fontWeight":300,"align":"center","baseline":"middle","dy":2,"fill":"#231f20"},"encoding":{"text":{"field":"s","type":"nominal"}}},
{"data":{"values":[{"s":"FSZ","x":148,"y":109},{"s":"FSC","x":148,"y":395},{"s":"FST","x":680,"y":395},{"s":"FSW","x":148,"y":673},{"s":"RSV","x":680,"y":673},{"s":"RSB","x":148,"y":952},{"s":"FSB","x":680,"y":952},{"s":"FSV","x":148,"y":1231},{"s":"SSV","x":682,"y":1231},{"s":"FSH","x":152,"y":1580}]},"mark":{"type":"text","font":"Roboto","fontWeight":900,"fontSize":31,"align":"left","baseline":"middle","dy":2,"fill":"#231f20"},"encoding":{"text":{"field":"s","type":"nominal"}}},
{"data":{"values":[{"s":"(F)法蘭型 (S)單螺帽  (Z)Super Z","x":162,"y":318},{"s":"(F)法蘭型 (S)單螺帽 (C)高速化","x":162,"y":609},{"s":"(F)法蘭型 (S)單螺帽 (T)Super T","x":690,"y":609},{"s":"(F)法蘭型 (S)單螺帽 (W)迴流管在螺帽外徑內","x":162,"y":888},{"s":"(R)圓型 (S)單螺帽 (V)迴流管高出螺帽外徑","x":690,"y":888},{"s":"(R)圓型 (S)單螺帽 (B)迴流管埋在螺帽外徑內","x":162,"y":1167},{"s":"(F)法蘭型 (S)單螺帽 (B)迴流管埋在螺帽外徑內","x":690,"y":1167},{"s":"(F)法蘭型 (S)單螺帽 (V)迴流管高出螺帽外徑","x":162,"y":1448},{"s":"(S)方型 (S)單螺帽 (V)迴流管高出螺帽外徑","x":690,"y":1448},{"s":"高導程 (F)法蘭型 (S)單螺帽 (H)端蓋","x":162,"y":1794}]},"mark":{"type":"text","font":"Roboto, Noto Sans CJK TC","fontSize":21,"align":"left","baseline":"middle","dy":2,"fill":"#231f20"},"encoding":{"text":{"field":"s","type":"nominal"}}}
]}
